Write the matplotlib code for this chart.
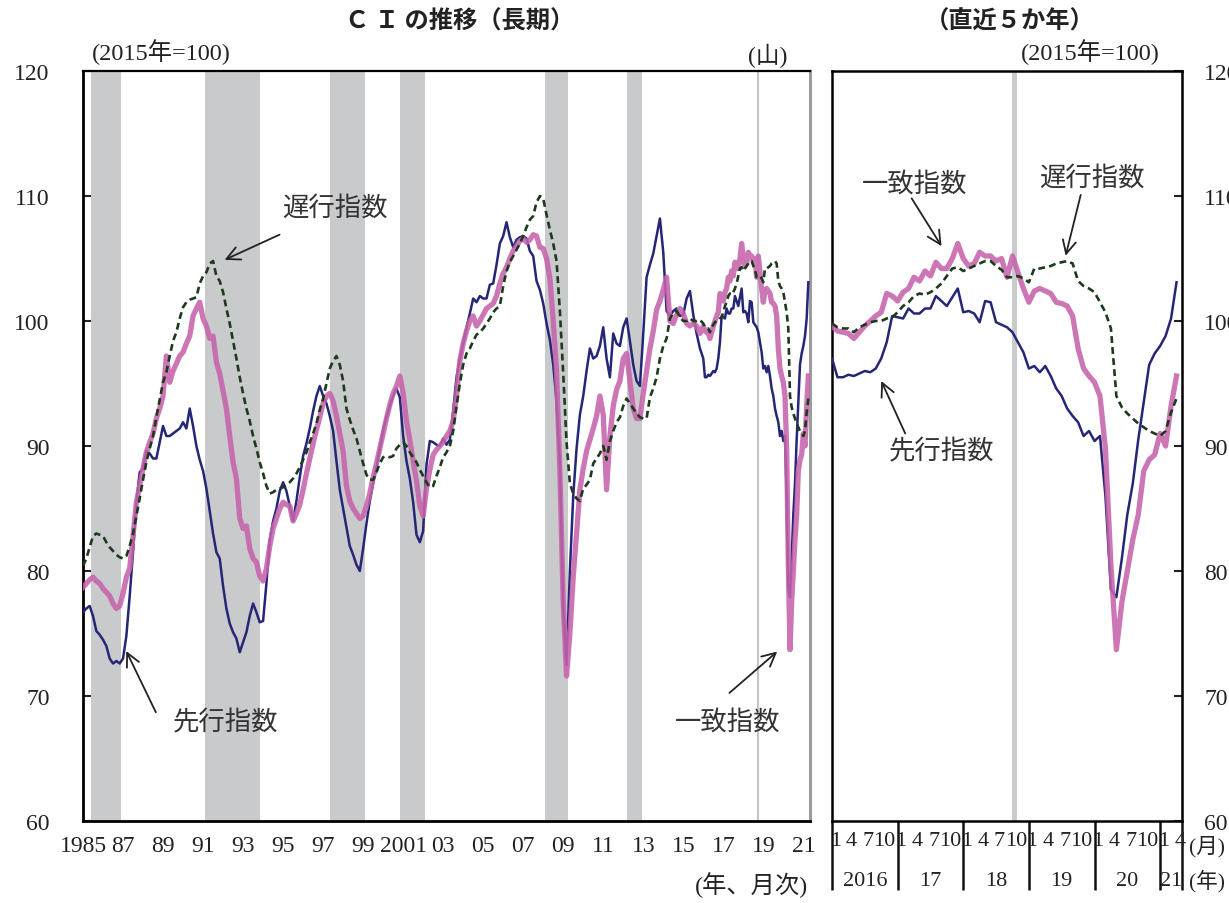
import numpy as np
import pandas as pd
import matplotlib
matplotlib.use("Agg")
from matplotlib import pyplot as plt
from matplotlib import transforms

plt.rcParams['font.family'] = ['Liberation Serif', 'Noto Sans CJK JP']
JP = ['Noto Sans CJK JP', 'DejaVu Sans']
MIX = ['Liberation Serif', 'Noto Sans CJK JP']

# ---- data (2015=100) ----
# every 2 months, 1985-01 .. 2015-11
lead_hist = [
    76.7, 77.0, 77.2, 76.4, 75.2, 74.9,   74.5, 74.0, 73.0, 72.6, 72.8, 72.6,
    73.0, 74.8, 78.0, 81.5, 85.5, 87.9,   88.2, 89.6, 89.4, 89.0, 89.0, 90.3,
    91.6, 90.8, 90.8, 91.0, 91.2, 91.4,   91.9, 91.4, 93.0, 91.6, 90.0, 88.9,
    88.0, 86.6, 84.8, 83.0, 81.5, 81.0,   78.8, 77.0, 75.8, 75.1, 74.6, 73.5,
    74.3, 75.1, 76.4, 77.4, 76.7, 75.9,   76.0, 79.0, 82.5, 84.0, 85.0, 86.4,
    87.1, 86.4, 85.2, 84.0, 85.6, 87.5,   89.2, 90.2, 91.4, 92.8, 94.0, 94.8,
    94.0, 93.4, 92.4, 91.2, 88.8, 86.5,   85.0, 83.5, 82.0, 81.3, 80.5, 80.0,
    81.8, 83.8, 85.6, 87.0, 88.3, 89.8,   91.3, 92.3, 93.2, 94.0, 94.6, 93.9,
    90.8, 88.8, 87.4, 85.5, 82.9, 82.3,   83.2, 88.5, 90.4, 90.3, 90.1, 90.0,
    90.6, 90.1, 90.5, 92.8, 95.5, 97.0,   98.2, 99.5, 100.6, 101.8, 101.5, 102.0,
    101.8, 101.8, 102.9, 103.0, 104.5, 106.2,   106.8, 107.9, 106.7, 105.9, 106.5, 106.7,
    106.8, 106.6, 105.6, 105.2, 103.2, 102.5,   101.4, 99.8, 98.5, 96.5, 93.6, 88.5,
    77.0, 72.5, 80.0, 86.0, 89.8, 92.5,   94.0, 96.0, 97.8, 97.0, 97.2, 98.0,
    99.5, 97.0, 95.5, 99.0, 98.2, 98.0,   99.5, 100.2, 98.4, 96.5, 95.2, 94.8,
    99.0, 103.5, 104.5, 105.4, 106.8, 108.2,   105.5, 100.8, 100.4, 100.8, 101.0, 100.4,
    100.5, 101.8, 102.4, 100.5, 99.0, 97.8,
]
coin_hist = [
    78.7, 79.0, 79.3, 79.5, 79.2, 79.0,   78.6, 78.3, 78.0, 77.4, 77.0, 77.2,
    78.2, 79.5, 80.2, 82.8, 85.5, 86.8,   88.2, 89.5, 90.3, 91.0, 92.2, 93.0,
    94.0, 97.2, 95.1, 96.0, 96.6, 97.2,   97.5, 98.2, 98.8, 100.4, 101.0, 101.5,
    100.2, 99.6, 98.6, 98.8, 96.7, 95.8,   94.4, 93.0, 90.8, 88.7, 87.4, 84.2,
    83.4, 83.6, 81.8, 81.0, 80.7, 79.6,   79.2, 80.2, 82.0, 83.4, 84.2, 85.0,
    85.5, 85.3, 85.2, 84.0, 84.6, 85.3,   86.5, 87.8, 89.0, 90.2, 91.3, 92.3,
    93.4, 94.0, 94.2, 93.6, 92.4, 91.0,   89.6, 86.8, 85.6, 85.0, 84.6, 84.2,
    84.4, 85.2, 86.2, 87.5, 88.6, 89.8,   91.0, 92.2, 93.3, 94.2, 94.8, 95.6,
    94.2, 92.0, 90.5, 88.8, 87.2, 85.2,   84.4, 86.6, 88.1, 89.3, 89.7, 90.0,
    90.3, 90.8, 91.2, 92.0, 94.0, 96.8,   98.2, 99.2, 100.0, 100.4, 99.6, 100.0,
    100.5, 101.0, 101.2, 101.4, 102.0, 103.0,   103.8, 104.3, 105.0, 105.6, 106.0, 106.4,
    106.6, 106.3, 106.5, 106.9, 106.8, 105.9,   105.8, 105.0, 103.4, 100.0, 96.0, 88.0,
    77.5, 71.6, 75.0, 79.5, 83.0, 86.5,   88.2, 89.6, 90.5, 91.4, 92.4, 94.0,
    92.5, 86.5, 90.8, 93.2, 94.5, 95.2,   97.0, 97.4, 95.2, 93.0, 92.2, 92.2,
    94.2, 96.0, 97.8, 99.2, 100.9, 101.6,   102.5, 103.5, 100.0, 99.8, 100.5, 101.0,
    100.6, 99.8, 99.6, 99.8, 99.6, 99.0,
]
lag_hist = [
    80.4, 81.0, 81.9, 82.8, 83.0, 82.9,   82.8, 82.3, 81.9, 81.6, 81.3, 81.1,
    81.0, 81.2, 82.0, 83.0, 84.4, 85.8,   87.3, 88.7, 89.8, 90.8, 92.3, 93.7,
    95.1, 95.9, 97.2, 98.4, 99.1, 100.2,   101.1, 101.5, 101.7, 101.8, 101.9, 103.0,
    103.6, 103.9, 104.6, 104.8, 103.6, 103.2,   102.3, 101.0, 99.8, 98.4, 97.0, 95.5,
    94.2, 93.0, 92.0, 90.8, 89.8, 88.7,   87.8, 86.8, 86.2, 86.3, 86.5, 86.6,
    86.7, 86.9, 87.1, 87.4, 87.8, 88.3,   88.9, 89.5, 90.3, 91.0, 91.8, 92.9,
    93.8, 95.0, 96.2, 96.8, 97.2, 96.5,   95.2, 93.0, 92.1, 91.3, 90.6, 89.6,
    88.6, 87.7, 87.3, 87.3, 87.9, 88.6,   89.1, 89.2, 89.1, 89.2, 89.8, 90.1,
    90.3, 90.0, 89.5, 89.1, 88.7, 88.1,   87.6, 87.1, 86.7, 86.8, 87.6, 88.3,
    89.1, 89.5, 90.0, 91.2, 93.2, 95.0,   96.5, 97.4, 97.8, 98.4, 98.9, 99.1,
    99.4, 99.8, 100.2, 100.7, 101.0, 101.2,   102.8, 104.0, 104.7, 105.2, 105.7, 106.2,
    106.8, 107.5, 108.1, 108.4, 109.5, 110.0,   109.8, 108.5, 107.3, 106.2, 104.8, 100.8,
    95.8, 90.3, 87.0, 86.2, 85.8, 85.6,   86.6, 86.9, 87.3, 88.6, 89.0, 89.4,
    90.0, 88.9, 90.4, 91.2, 91.9, 92.3,   93.2, 93.8, 93.4, 93.0, 92.6, 92.3,
    92.2, 92.2, 93.9, 94.6, 95.5, 97.0,   98.0, 98.6, 100.2, 100.6, 100.8, 100.3,
    100.0, 100.0, 100.2, 100.0, 100.0, 100.1,
]

# monthly, 2016-01 .. 2021-04
lead_recent = [
    97.0, 95.5, 95.5, 95.7, 95.6, 95.8, 96.0, 95.9, 96.2, 97.0, 98.3, 100.4,
    100.3, 100.2, 101.0, 100.6, 100.6, 101.0, 101.0, 102.0, 101.6, 101.2, 101.9, 102.6,
    100.7, 100.8, 100.6, 99.9, 101.6, 101.5, 99.9, 99.7, 99.5, 99.1, 98.3, 97.5,
    96.2, 96.4, 95.9, 96.4, 95.6, 94.6, 94.0, 93.0, 92.4, 91.9, 90.8, 91.2,
    90.4, 90.8, 86.0, 78.5, 77.9, 81.0, 84.5, 87.0, 90.5, 93.5, 96.5, 97.4,
    98.0, 98.8, 100.2, 103.1,
]
coin_recent = [
    99.6, 99.2, 99.1, 99.0, 98.6, 99.1, 99.6, 100.0, 100.4, 100.7, 102.2, 102.0,
    101.6, 102.3, 102.6, 103.5, 103.2, 104.0, 103.6, 104.7, 104.2, 104.2, 105.0, 106.2,
    105.0, 104.4, 104.6, 105.5, 105.2, 105.2, 104.8, 105.0, 103.5, 105.2, 103.9, 102.6,
    101.5, 102.4, 102.6, 102.4, 102.2, 101.5, 101.4, 101.2, 100.4, 97.8, 96.2, 95.6,
    95.1, 94.0, 89.8, 80.5, 73.7, 77.5, 80.0, 82.5, 84.5, 88.0, 88.9, 89.3,
    91.0, 90.0, 93.2, 95.6,
]
lag_recent = [
    99.8, 99.5, 99.4, 99.4, 99.1, 99.5, 99.7, 99.9, 100.0, 100.0, 100.2, 100.3,
    100.7, 101.2, 101.5, 102.0, 102.2, 102.1, 102.3, 102.6, 103.0, 103.6, 104.2, 104.3,
    104.0, 104.2, 104.4, 104.6, 104.8, 104.8, 104.4, 104.1, 103.5, 103.5, 103.6, 103.4,
    103.1, 104.2, 104.2, 104.3, 104.4, 104.6, 104.7, 104.8, 104.6, 103.2, 102.8, 102.6,
    102.3, 101.5, 100.7, 99.4, 94.0, 93.1, 92.6, 92.2, 91.8, 91.5, 91.2, 91.0,
    90.8, 91.2, 92.7, 93.8,
]

# business cycle peaks / troughs (shaded recessions)
peaks = ['1985-06', '1991-02', '1997-05', '2000-11', '2008-02', '2012-03']
troughs = ['1986-11', '1993-10', '1999-01', '2002-01', '2009-03', '2012-11']
last_peak = '2018-10'

year_ticks = list(range(1985, 2022, 2))
year_labels = ['1985', '87', '89', '91', '93', '95', '97', '99', '2001', '03',
               '05', '07', '09', '11', '13', '15', '17', '19', '21']
month_labels = ['1', '4', '7', '10']
recent_years = ['2016', '17', '18', '19', '20', '21']


def dec_year(d):
    d = pd.DatetimeIndex(d)
    return np.asarray(d.year + (d.month - 1) / 12.0)


hist_dates = pd.date_range('1985-01-01', periods=len(lead_hist), freq='2MS')
recent_dates = pd.date_range('2016-01-01', periods=len(lead_recent), freq='MS')
t_long = np.concatenate([dec_year(hist_dates), dec_year(recent_dates)])
lead = np.array(lead_hist + lead_recent)
coin = np.array(coin_hist + coin_recent)
lag = np.array(lag_hist + lag_recent)

NAVY = '#262676'
PINK = '#c663ab'
GREEN = '#1c3a1c'
SHADE = '#c9cacc'
DASH = (0, (2.6, 1.6))

W, H = 1229, 904
fig = plt.figure(figsize=(W / 100, H / 100), dpi=100)

# ---------------- left: long term ----------------
ax = fig.add_axes([83 / W, 82 / H, 727 / W, 750 / H])
for p, tr in zip(peaks, troughs):
    ax.axvspan(dec_year([p])[0], dec_year([tr])[0] + 1 / 12, color=SHADE, lw=0, zorder=0)
ax.axvline(dec_year([last_peak])[0], color='#c4c4c4', lw=1.5, zorder=0)

ax.plot(t_long, lead, color=NAVY, lw=1.8, zorder=3)
ax.plot(t_long, coin, color=PINK, lw=3.8, alpha=0.88, zorder=4, solid_joinstyle='round')
ax.plot(t_long, lag, color=GREEN, lw=1.9, ls=DASH, zorder=5)

ax.set_xlim(1985, 2021 + 4 / 12)
ax.set_ylim(60, 120)
ax.set_yticks(range(60, 121, 10))
ax.set_xticks(year_ticks)
ax.set_xticklabels(year_labels)
ax.tick_params(axis='y', direction='in', length=6, width=1.5, labelsize=17, pad=24,
               colors='#222222')
ax.tick_params(axis='x', length=0, labelsize=17, pad=10, colors='#222222')
for s in ['left', 'bottom']:
    ax.spines[s].set_linewidth(2.0)
ax.spines['top'].set_linewidth(1.6)
ax.spines['right'].set_color('#9c9c9c')
ax.spines['right'].set_linewidth(2.2)

arrow = dict(arrowstyle='->', lw=1.3, color='#222222', mutation_scale=24)
ax.annotate('', xy=(1991.95, 104.8), xytext=(1994.95, 107.0), arrowprops=arrow)
ax.text(1997.6, 109.1, '遅行指数', family=JP, fontsize=19, color='#333333',
        ha='center', va='center')
ax.annotate('', xy=(1987.1, 73.8), xytext=(1988.7, 68.5), arrowprops=arrow)
ax.text(1992.1, 67.9, '先行指数', family=JP, fontsize=19, color='#333333',
        ha='center', va='center')
ax.annotate('', xy=(2019.8, 73.7), xytext=(2017.2, 70.1), arrowprops=arrow)
ax.text(2017.2, 68.0, '一致指数', family=JP, fontsize=19, color='#333333',
        ha='center', va='center')

# ---------------- right: last five years ----------------
ax2 = fig.add_axes([832 / W, 82 / H, 350 / W, 750 / H])
m = np.arange(len(lead_recent))
ax2.axvspan(33, 33.9, color=SHADE, lw=0, zorder=0)
ax2.plot(m, lead_recent, color=NAVY, lw=1.8, zorder=3)
ax2.plot(m, coin_recent, color=PINK, lw=3.8, alpha=0.88, zorder=4, solid_joinstyle='round')
ax2.plot(m, lag_recent, color=GREEN, lw=1.9, ls=DASH, zorder=5)
ax2.set_xlim(0, 64)
ax2.set_ylim(60, 120)
ax2.set_yticks(range(60, 121, 10))
ax2.set_xticks([])
ax2.yaxis.tick_right()
ax2.tick_params(axis='y', direction='in', length=6, width=1.5, labelsize=17, pad=16,
                colors='#222222')
for s in ax2.spines.values():
    s.set_linewidth(1.8)

tr2 = transforms.blended_transform_factory(ax2.transData, ax2.transAxes)
n_years = len(recent_years)
bounds = [12 * k for k in range(n_years)] + [len(lead_recent)]
for b in bounds:
    ax2.plot([b, b], [0, -0.092], transform=tr2, color='#111111', lw=1.8,
             clip_on=False, solid_capstyle='butt')
for k, lab in enumerate(recent_years):
    for j, ml in enumerate(month_labels):
        mm = 12 * k + 3 * j
        if mm >= len(lead_recent):
            break
        ax2.text(mm + 0.6, -0.026, ml, transform=tr2, ha='center', va='center',
                 fontsize=16, color='#222222')
    mid = (bounds[k] + bounds[k + 1]) / 2
    ax2.text(mid, -0.079, lab, transform=tr2, ha='center', va='center',
             fontsize=16, color='#222222')

ax2.annotate('', xy=(20.3, 105.8), xytext=(14.3, 110.0), arrowprops=arrow)
ax2.text(15.2, 111.0, '一致指数', family=JP, fontsize=19, color='#333333',
         ha='center', va='center')
ax2.annotate('', xy=(42.6, 105.0), xytext=(45.6, 110.3), arrowprops=arrow)
ax2.text(47.5, 111.5, '遅行指数', family=JP, fontsize=19, color='#333333',
         ha='center', va='center')
ax2.annotate('', xy=(8.8, 95.4), xytext=(13.6, 90.8), arrowprops=arrow)
ax2.text(20.0, 89.6, '先行指数', family=JP, fontsize=19, color='#333333',
         ha='center', va='center')

# ---------------- titles / notes ----------------
fig.text(460 / W, 1 - 22 / H, 'Ｃ Ｉ の推移（長期）', family=JP, fontsize=17.5,
         fontweight='bold', ha='center', va='center', color='#222222')
fig.text(1010 / W, 1 - 22 / H, '（直近５か年）', family=JP, fontsize=17.5,
         fontweight='bold', ha='center', va='center', color='#222222')
fig.text(92 / W, 1 - 52 / H, '(2015年=100)', family=MIX, fontsize=17.5,
         ha='left', va='center', color='#222222')
fig.text(1090 / W, 1 - 52 / H, '(2015年=100)', family=MIX, fontsize=17.5,
         ha='center', va='center', color='#222222')
fig.text(768 / W, 1 - 56 / H, '(山)', family=MIX, fontsize=17,
         ha='center', va='center', color='#222222')
fig.text(752 / W, 1 - 885 / H, '(年、月次)', family=MIX, fontsize=17.5,
         ha='center', va='center', color='#222222')
fig.text(1207 / W, 1 - 847 / H, '(月)', family=MIX, fontsize=15.5,
         ha='center', va='center', color='#222222')
fig.text(1207 / W, 1 - 881 / H, '(年)', family=MIX, fontsize=15.5,
         ha='center', va='center', color='#222222')

fig.savefig('out.png', dpi=100)
